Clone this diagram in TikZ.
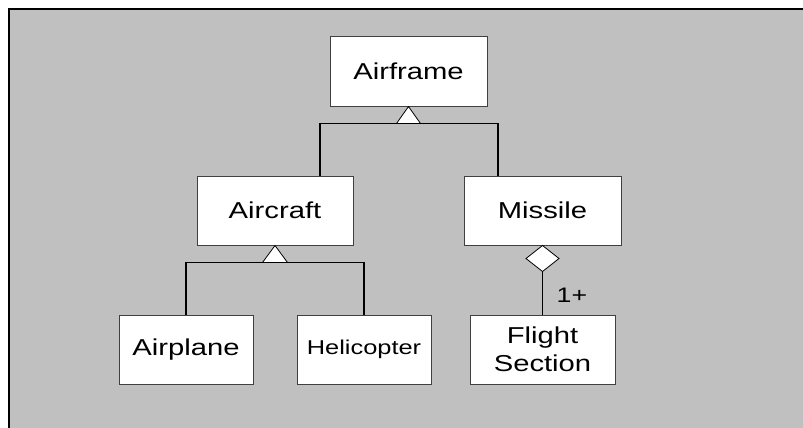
\documentclass[tikz,border=0pt]{standalone}
\usepackage{fontspec}
\setmainfont[FakeStretch=1.27]{Liberation Sans}
\definecolor{paneGray}{HTML}{C0C0C0}
\definecolor{edgeGray}{HTML}{404040}
\tikzset{classbox/.style = {draw = edgeGray,
					 fill = white,
					 line width = 1pt,
					 minimum height = 69pt,
					 inner sep = 0pt,
					 align = center,
					 font = \fontsize{23}{27.6}\selectfont},
		 link/.style = {black, line width = 1.8pt},
		 headtri/.style = {draw = black, fill = white, line width = 0.8pt}}
\begin{document}
\begin{tikzpicture}[x = 1pt, y = -1pt]

	\useasboundingbox (0,0) rectangle (803,428);
	\fill[paneGray] (9,9) rectangle (803,428);
	\draw[black, line width = 2.5pt] (9,428) |- (803,9);

	\draw (408.5,71.5) node[classbox,
					 minimum width = 157pt] (airframe) {Airframe};
	
	\draw (275,210.5) node[classbox,
					 minimum width = 156pt] (aircraft) {Aircraft};
	
	\draw (542.5,210.5) node[classbox,
					 minimum width = 157pt] (missile) {Missile};
					 
	\draw (186,349.5) node[classbox,
					 minimum width = 134pt] (airplane) {Airplane};
	
	\draw (364,349.5) node[classbox,
					 minimum width = 134pt,
					 font = \fontsize{20}{24}\selectfont] (helicopter) {Helicopter};
					 
	\draw (542.5,349.5) node[classbox,
					 minimum width = 145pt] (flight) {Flight\\Section};
	
	% generalisation: Airframe
	\path (airframe.south) ++(0,17) coordinate (afbase);
	\draw[link] ([xshift = 45pt]aircraft.north) |- (afbase) -| ([xshift = -44.5pt]missile.north);
	\draw[headtri] (airframe.south) -- ++(-12,17) -- ++(24,0) -- cycle;
	
	% generalisation: Aircraft
	\path (aircraft.south) ++(0,17) coordinate (acbase);
	\draw[link] (airplane.north) |- (acbase) -| (helicopter.north);
	\draw[headtri] (aircraft.south) -- ++(-12.5,17) -- ++(25,0) -- cycle;
	
	% aggregation: Missile
	\path (missile.south) ++(0,26) coordinate (dbottom);
	\draw[link] (dbottom) -- node[pos = 0.55, anchor = west, xshift = 10pt,
					 font = \fontsize{21}{25}\selectfont] (mult) {1+} (flight.north);
	\draw[headtri] (missile.south) -- ++(16.5,13) -- ++(-16.5,13) -- ++(-16.5,-13) -- cycle;
\end{tikzpicture}
\end{document}
